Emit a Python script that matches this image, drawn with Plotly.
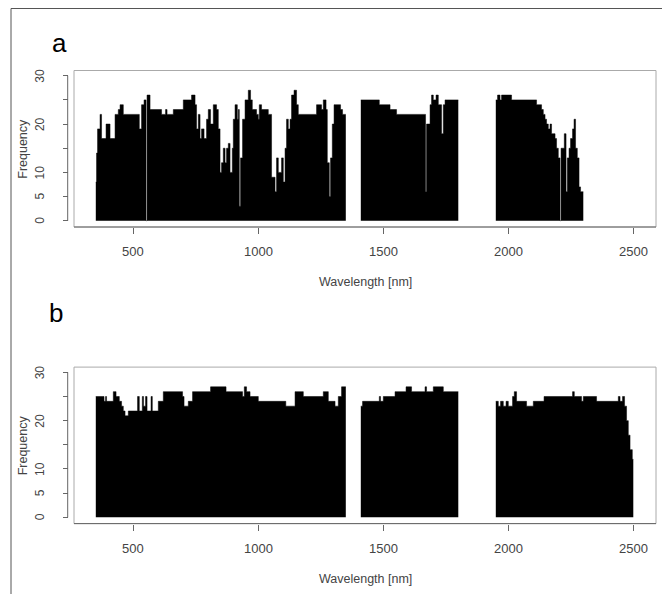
import plotly.graph_objects as go

W, H = 670, 594
OFF = 8  # page body margin the browser adds around the plot div

# panel a: step starts (nm) and frequency per segment, plus segment end
a1_wl = [350, 353, 357, 367, 373, 391, 407, 427, 440, 447, 460, 524, 533, 543, 551, 555, 567, 613, 629, 635,
         660, 700, 733, 747, 753, 760, 767, 773, 783, 793, 800, 809, 820, 833, 840, 847, 853, 860, 867, 873,
         880, 887, 896, 900, 907, 916, 920, 924, 929, 937, 947, 960, 969, 976, 993, 1000, 1004, 1013, 1040,
         1053, 1067, 1073, 1080, 1093, 1100, 1107, 1113, 1120, 1127, 1133, 1143, 1153, 1160, 1233, 1253,
         1260, 1271, 1276, 1284, 1289, 1296, 1303, 1329, 1337]
a1_fr = [8, 14, 19, 22, 17, 20, 17, 22, 23, 24, 22, 19, 24, 25, 0, 26, 23, 22, 23, 22,
         23, 25, 26, 24, 19, 22, 17, 19, 17, 21, 23, 20, 24, 23, 19, 10, 12, 15, 12, 15,
         16, 10, 15, 21, 24, 21, 23, 3, 13, 21, 25, 27, 25, 23, 22, 21, 24, 23, 22,
         9, 6, 13, 10, 13, 8, 15, 21, 19, 21, 26, 27, 24, 22, 24, 23,
         25, 23, 12, 5, 13, 20, 24, 23, 22]
a2_wl = [1410, 1484, 1527, 1553, 1669, 1673, 1687, 1693, 1700, 1711, 1720, 1733, 1740, 1747]
a2_fr = [25, 24, 23, 22, 6, 20, 24, 26, 25, 26, 24, 18, 24, 25]
a3_wl = [1950, 1957, 1967, 1973, 2013, 2113, 2133, 2140, 2147, 2153, 2160, 2167, 2173, 2187, 2193, 2200,
         2207, 2211, 2224, 2231, 2236, 2243, 2249, 2257, 2263, 2269, 2276, 2283, 2289]
a3_fr = [25, 26, 25, 26, 25, 24, 23, 22, 21, 20, 19, 20, 18, 17, 15, 13,
         0, 15, 18, 6, 13, 15, 17, 19, 21, 15, 13, 7, 6]
a_ends = [1350, 1800, 2300]

# panel b
b1_wl = [350, 383, 389, 393, 420, 431, 444, 453, 460, 467, 480, 517, 524, 536, 541, 549, 555, 571, 576, 600,
         620, 697, 703, 720, 737, 809, 871, 937, 944, 953, 967, 1000, 1110, 1147, 1180, 1260, 1280, 1307,
         1320, 1333]
b1_fr = [25, 24, 25, 24, 26, 25, 24, 23, 22, 21, 22, 25, 22, 25, 23, 25, 22, 25, 22, 24,
         26, 25, 23, 24, 26, 27, 26, 25, 27, 26, 25, 24, 23, 26, 25, 26, 24, 23,
         25, 27]
b2_wl = [1410, 1417, 1484, 1489, 1500, 1547, 1591, 1613, 1667, 1673, 1700, 1740]
b2_fr = [23, 24, 25, 24, 25, 26, 27, 26, 27, 26, 27, 26]
b3_wl = [1950, 1960, 1969, 1980, 1991, 2000, 2017, 2024, 2033, 2073, 2100, 2143, 2257, 2264, 2293, 2300,
         2353, 2440, 2447, 2457, 2465, 2473, 2480, 2487, 2496]
b3_fr = [24, 23, 24, 23, 24, 23, 25, 26, 24, 23, 24, 25, 26, 25, 24, 25,
         24, 25, 24, 25, 23, 20, 17, 14, 12]
b_ends = [1350, 1800, 2500]

x_ticks = [500, 1000, 1500, 2000, 2500]
y_ticks = [0, 5, 10, 15, 20, 25, 30]
y_labels = ["0", "5", "10", "", "20", "", "30"]


def px_x(p):
    return (p - OFF) / W


def px_y(p):
    return 1 - (p - OFF) / H


fig = go.Figure()

panels = [
    ("x", "y", [(a1_wl, a1_fr), (a2_wl, a2_fr), (a3_wl, a3_fr)], a_ends),
    ("x2", "y2", [(b1_wl, b1_fr), (b2_wl, b2_fr), (b3_wl, b3_fr)], b_ends),
]
for xa, ya, segs, ends in panels:
    for (wl, fr), end in zip(segs, ends):
        fig.add_trace(go.Scatter(
            x=wl + [end], y=fr + [fr[-1]],
            xaxis=xa, yaxis=ya,
            mode="lines", line=dict(color="black", width=0.5, shape="hv"),
            fill="tozeroy", fillcolor="black",
            showlegend=False, hoverinfo="skip",
        ))

box_left, box_right = 74, 656
tops = [70.5, 367.1]
bottoms = [227, 523.6]
y_axis_px = 67.7
font = "Liberation Sans, Arial, sans-serif"

axis_common = dict(
    range=[262.8, 2590.8], tickvals=x_ticks, ticks="outside", ticklen=6, tickcolor="#666",
    showgrid=False, zeroline=False, showline=False, showticklabels=False,
    domain=[px_x(box_left), px_x(box_right)],
)
yaxis_common = dict(
    range=[-1.3, 31.08], tickvals=y_ticks, ticks="outside", ticklen=5,
    tickcolor="#666", showgrid=False, zeroline=False, showline=False, anchor="free",
    position=px_x(y_axis_px), showticklabels=False,
)

fig.update_layout(
    width=W, height=H,
    margin=dict(l=0, r=0, t=0, b=0),
    paper_bgcolor="white", plot_bgcolor="white",
    xaxis=dict(anchor="y", **axis_common),
    xaxis2=dict(anchor="y2", **axis_common),
    yaxis=dict(domain=[px_y(bottoms[0]), px_y(tops[0])], **yaxis_common),
    yaxis2=dict(domain=[px_y(bottoms[1]), px_y(tops[1])], **yaxis_common),
)

shapes = [
    # outer frame (top and left)
    dict(type="line", xref="paper", yref="paper", x0=px_x(11), x1=1, y0=px_y(8.5), y1=px_y(8.5),
         line=dict(color="#555", width=1)),
    dict(type="line", xref="paper", yref="paper", x0=px_x(11), x1=px_x(11), y0=0, y1=px_y(8.5),
         line=dict(color="#555", width=1)),
]
for i, (t, b) in enumerate(zip(tops, bottoms)):
    ya = "y" if i == 0 else "y2"
    shapes.append(dict(type="rect", xref="paper", yref="paper",
                       x0=px_x(box_left), x1=px_x(box_right), y0=px_y(b), y1=px_y(t),
                       line=dict(color="#aaa", width=1), layer="below"))
    shapes.append(dict(type="line", xref="paper", yref="paper",
                       x0=px_x(box_left), x1=px_x(box_right), y0=px_y(b), y1=px_y(b),
                       line=dict(color="#666", width=1)))
    shapes.append(dict(type="line", xref="paper", yref=ya,
                       x0=px_x(y_axis_px), x1=px_x(y_axis_px), y0=0, y1=30,
                       line=dict(color="#666", width=1)))
fig.update_layout(shapes=shapes)

annotations = []
tick_font = dict(family=font, size=13, color="#444")
for i, (t, b) in enumerate(zip(tops, bottoms)):
    mid = (t + b) / 2
    xa = "x" if i == 0 else "x2"
    ya = "y" if i == 0 else "y2"
    for v in x_ticks:
        annotations.append(dict(text=str(v), xref=xa, yref="paper", x=v, y=px_y(b + 24.5),
                                xanchor="center", yanchor="middle", showarrow=False,
                                font=tick_font))
    for v, lab in zip(y_ticks, y_labels):
        if lab:
            annotations.append(dict(text=lab, xref="paper", yref=ya, x=px_x(40), y=v,
                                    textangle=-90, xanchor="center", yanchor="middle",
                                    showarrow=False, font=dict(family=font, size=12, color="#444")))
    annotations.append(dict(text="Wavelength [nm]", xref="paper", yref="paper",
                            x=px_x((box_left + box_right) / 2), y=px_y(b + 55),
                            xanchor="center", yanchor="middle", showarrow=False,
                            font=dict(family=font, size=12.5, color="#444")))
    annotations.append(dict(text="Frequency", xref="paper", yref="paper",
                            x=px_x(23), y=px_y(mid), textangle=-90,
                            xanchor="center", yanchor="middle", showarrow=False,
                            font=dict(family=font, size=12.5, color="#444")))
annotations.append(dict(text="a", xref="paper", yref="paper", x=px_x(50), y=px_y(43),
                        xanchor="left", yanchor="middle", showarrow=False,
                        font=dict(family=font, size=26, color="black")))
annotations.append(dict(text="b", xref="paper", yref="paper", x=px_x(47), y=px_y(313),
                        xanchor="left", yanchor="middle", showarrow=False,
                        font=dict(family=font, size=26, color="black")))
fig.update_layout(annotations=annotations)

fig.write_html("out.html")
